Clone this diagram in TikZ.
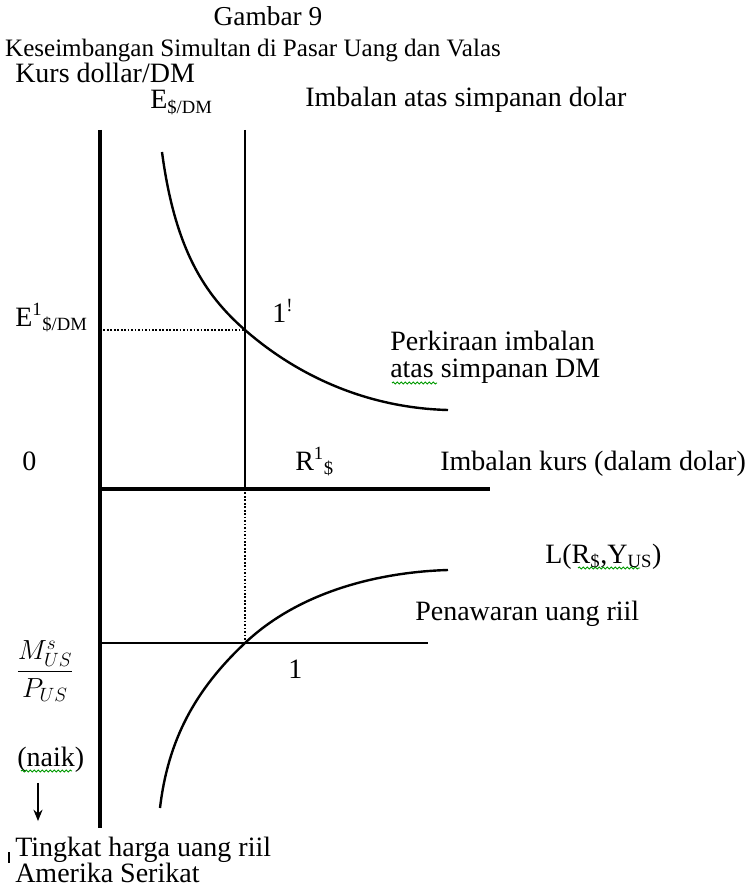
\documentclass[tikz,border=0pt]{standalone}
\usepackage{fontspec}
\setmainfont{Liberation Serif}
\usetikzlibrary{arrows.meta,positioning,calc,decorations.pathmorphing}
\tikzset{
  >={Stealth[length=3mm,width=2.4mm]},
  lbl/.style = {inner sep=0pt, anchor=base west, font=\fontsize{21}{27}\selectfont},
  titlelbl/.style = {inner sep=0pt, anchor=base, font=\fontsize{18.8}{24}\selectfont},
  axis/.style = {line width=2.6pt},
  guide/.style = {line width=1.9pt},
  curve/.style = {line width=1.8pt},
  dotline/.style = {line width=1.5pt, dash pattern=on 1.3pt off 1.3pt},
  spell/.style = {green!60!black, line width=0.7pt, decorate,
                  decoration={snake, amplitude=0.7pt, segment length=3pt}},
}
\newcommand{\sbs}[1]{\textsubscript{\fontsize{14}{14}\selectfont #1}}
\newcommand{\sps}[1]{\textsuperscript{\fontsize{14}{14}\selectfont #1}}

\begin{document}
\begin{tikzpicture}[x=0.75pt, y=-0.75pt]
  \useasboundingbox (0,0) rectangle (753,891);

  % ----------------------------------------------------------------------
  % Title
  % ----------------------------------------------------------------------
  \node[titlelbl, font=\fontsize{20.5}{24}\selectfont] (title) at (268,26) {Gambar 9};
  \node[titlelbl] (subtitle) at (253,57) {Keseimbangan Simultan di Pasar Uang dan Valas};

  % ----------------------------------------------------------------------
  % Axes and guide lines
  % ----------------------------------------------------------------------
  \coordinate (axTop) at (100,130);
  \coordinate (axBot) at (100,828);
  \coordinate (origin) at (100,489);
  \coordinate (axRight) at (490,489);
  \coordinate (retTop) at (245,130);
  \coordinate (retBot) at (245,489);
  \coordinate (eq1) at (245,330);
  \coordinate (eq2) at (245,643);
  \coordinate (supL) at (100,643);
  \coordinate (supR) at (428,643);

  \draw[axis] (axTop) -- (axBot);
  \draw[axis] (origin) -- (axRight);
  \draw[guide] (retTop) -- (retBot);
  \draw[guide] (supL) -- (supR);
  \draw[dotline] (eq1 -| origin) -- (eq1);
  \draw[dotline] (retBot) -- (eq2);

  % Expected return on DM deposits
  \draw[curve] (162,152) .. controls (175,250) and (205,295) .. (eq1)
               .. controls (300,378) and (370,408) .. (448,410);
  % Money demand
  \draw[curve] (160,808) .. controls (168,740) and (195,690) .. (eq2)
               .. controls (300,591) and (380,572) .. (448,570);

  % ----------------------------------------------------------------------
  % Upper panel labels
  % ----------------------------------------------------------------------
  \node[lbl] (kurs) at (15,83) {Kurs dollar/DM};
  \node[lbl] (eName) at (150,109) {E\sbs{\$/DM}};
  \node[lbl] (dolRet) at (305,107) {Imbalan atas simpanan dolar};
  \node[lbl] (eOne) at (15,326) {E\sps{1}\sbs{\$/DM}};
  \node[lbl] (ptOne) at (272,322) {1\sps{!}};
  \node[lbl] (dmRet) at (390,350) {Perkiraan imbalan};
  \node[lbl] (dmRetB) at (390,377) {atas simpanan DM};
  \draw[spell] (392,383) -- (437,383);
  \node[lbl] (zero) at (22,470) {0};
  \node[lbl] (rOne) at (295,470) {R\sps{1}\sbs{\$}};
  \node[lbl] (retAx) at (440,470) {Imbalan kurs (dalam dolar)};

  % ----------------------------------------------------------------------
  % Lower panel labels
  % ----------------------------------------------------------------------
  \node[lbl] (lDem) at (545,563) {L(R\sbs{\$},Y\sbs{US})};
  \draw[spell] (578,568) -- (640,568);
  \node[lbl] (supply) at (415,620) {Penawaran uang riil};
  \node[lbl] (ptTwo) at (288,678) {1};
  \node[inner sep=0pt, font=\fontsize{21}{26}\selectfont] (ratio) at (45,671)
       {$\displaystyle\frac{M^{s}_{US}}{P_{US}}$};
  \node[lbl] (naik) at (17,766) {(naik)};
  \draw[spell] (21,771) -- (72,771);
  \node[inner sep=0pt] (arrTop) at (38,782) {};
  \node[inner sep=0pt] (arrBot) at (38,822) {};
  \draw[->, line width=1.3pt] (arrTop) -- (arrBot);
  \node[lbl] (price) at (15,856) {Tingkat harga uang riil};
  \node[lbl] (priceB) at (15,882) {Amerika Serikat};
  \draw[line width=1.6pt] (9,852) -- (9,863);

\end{tikzpicture}
\end{document}
